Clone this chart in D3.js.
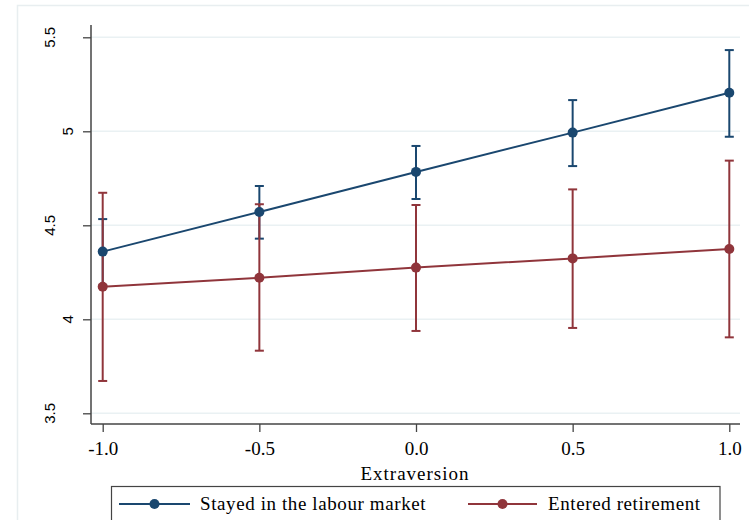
<!DOCTYPE html>
<html>
<head>
<meta charset="utf-8">
<script src="https://cdn.jsdelivr.net/npm/d3@7"></script>
<style>
  html, body { margin: 0; padding: 0; background: #fff; }
  svg { display: block; }
  .serif { font-family: "Liberation Serif", "Times New Roman", serif; fill: #000; }
  .sans { font-family: "Liberation Sans", Arial, sans-serif; fill: #000; }
</style>
</head>
<body>
<svg id="chart" width="749" height="520"></svg>
<script>
// Predicted values with confidence intervals by extraversion level
const extraversion = [-1.0, -0.5, 0.0, 0.5, 1.0];
const stayedMean  = [4.36, 4.571, 4.784, 4.993, 5.205];
const stayedLow   = [4.18, 4.429, 4.640, 4.815, 4.971];
const stayedHigh  = [4.533, 4.709, 4.922, 5.166, 5.432];
const retiredMean = [4.173, 4.221, 4.275, 4.324, 4.374];
const retiredLow  = [3.672, 3.833, 3.938, 3.954, 3.904];
const retiredHigh = [4.673, 4.612, 4.608, 4.691, 4.844];
const seriesNames = ["Stayed in the labour market", "Entered retirement"];
const yTicks = [3.5, 4, 4.5, 5, 5.5];
const xTicks = [-1.0, -0.5, 0.0, 0.5, 1.0];
const xTitle = "Extraversion";

const colors = ["#1a476f", "#90353b"];

const svg = d3.select("#chart");

// outer graph region frame
svg.append("rect")
  .attr("x", 17.5).attr("y", 5.5)
  .attr("width", 800).attr("height", 600)
  .attr("fill", "none").attr("stroke", "#e8eef0").attr("stroke-width", 1.5);

const plot = { left: 91, right: 740, top: 25, bottom: 424 };

const x = d3.scaleLinear().domain([-1, 1]).range([102.7, 729.3]);
const y = d3.scaleLinear().domain([3.5, 5.5]).range([413.3, 37.3]);

// horizontal grid lines
svg.append("g")
  .selectAll("line")
  .data(yTicks)
  .join("line")
  .attr("x1", plot.left).attr("x2", plot.right)
  .attr("y1", d => y(d)).attr("y2", d => y(d))
  .attr("stroke", "#eaf1f3").attr("stroke-width", 1.6);

// y axis
const yAxis = svg.append("g")
  .attr("transform", `translate(${plot.left},0)`)
  .call(d3.axisLeft(y).tickValues(yTicks).tickSize(8).tickFormat(d3.format("")).tickPadding(0));
yAxis.select(".domain").remove();
yAxis.selectAll(".tick line").attr("stroke", "#444").attr("stroke-width", 1.3);
yAxis.selectAll(".tick text").remove();
svg.append("line")
  .attr("x1", plot.left).attr("x2", plot.left)
  .attr("y1", plot.top).attr("y2", plot.bottom)
  .attr("stroke", "#444").attr("stroke-width", 1.5);

// rotated y tick labels; longer labels sit further from the axis
const yLab = svg.append("g").selectAll("text")
  .data(yTicks)
  .join("text")
  .attr("class", "sans")
  .attr("font-size", 15)
  .attr("text-anchor", "middle")
  .text(d => String(d));
yLab.each(function(d) {
  const L = this.getComputedTextLength();
  const bx = 85.5 - 1.48 * L;
  d3.select(this).attr("transform", `translate(${bx},${y(d)}) rotate(-90)`);
});

// x axis (plain hyphen for negative labels)
const fmtX = v => d3.format(".1f")(v).replace("\u2212", "-");
const xAxis = svg.append("g")
  .attr("transform", `translate(0,${plot.bottom})`)
  .call(d3.axisBottom(x).tickValues(xTicks).tickSize(8).tickFormat(fmtX).tickPadding(4));
xAxis.select(".domain").remove();
xAxis.selectAll(".tick line").attr("stroke", "#444").attr("stroke-width", 1.3);
xAxis.selectAll(".tick text")
  .attr("class", "serif")
  .attr("font-size", 19)
  .attr("fill", "#000")
  .attr("dy", null)
  .attr("y", 31);
svg.append("line")
  .attr("x1", plot.left).attr("x2", plot.right)
  .attr("y1", plot.bottom).attr("y2", plot.bottom)
  .attr("stroke", "#444").attr("stroke-width", 1.5);

// axis title
svg.append("text")
  .attr("class", "serif")
  .attr("x", 415).attr("y", 480)
  .attr("text-anchor", "middle")
  .attr("font-size", 19)
  .attr("letter-spacing", 1)
  .text(xTitle);

const series = [
  { name: seriesNames[0], mean: stayedMean, low: stayedLow, high: stayedHigh, color: colors[0] },
  { name: seriesNames[1], mean: retiredMean, low: retiredLow, high: retiredHigh, color: colors[1] }
];
series.forEach(s => {
  s.rows = extraversion.map((e, i) => ({ e, m: s.mean[i], lo: s.low[i], hi: s.high[i] }));
});

const line = d3.line().x(d => x(d[0])).y(d => y(d[1]));

// confidence interval caps for both series first
series.forEach(s => {
  const bars = svg.append("g").selectAll("g").data(s.rows).join("g");
  bars.append("line")
    .attr("x1", r => x(r.e)).attr("x2", r => x(r.e))
    .attr("y1", r => y(r.lo)).attr("y2", r => y(r.hi))
    .attr("stroke", s.color).attr("stroke-width", 2);
  [r => r.lo, r => r.hi].forEach(acc => {
    bars.append("line")
      .attr("x1", r => x(r.e) - 4.5).attr("x2", r => x(r.e) + 4.5)
      .attr("y1", r => y(acc(r))).attr("y2", r => y(acc(r)))
      .attr("stroke", s.color).attr("stroke-width", 2);
  });
});

// connected lines with markers on top
series.forEach(s => {
  const g = svg.append("g");
  g.append("path")
    .datum(s.rows.map(r => [r.e, r.m]))
    .attr("d", line)
    .attr("fill", "none")
    .attr("stroke", s.color)
    .attr("stroke-width", 2);
  g.selectAll("circle").data(s.rows).join("circle")
    .attr("cx", r => x(r.e)).attr("cy", r => y(r.m))
    .attr("r", 5)
    .attr("fill", s.color);
});

// legend
const legend = svg.append("g");
legend.append("rect")
  .attr("x", 111.5).attr("y", 486.5)
  .attr("width", 608.5).attr("height", 60)
  .attr("fill", "#fff").attr("stroke", "#444").attr("stroke-width", 1.2);

const legendItems = [
  { x0: 119, x1: 190, tx: 200 },
  { x0: 468, x1: 537, tx: 548 }
];
series.forEach((s, i) => {
  const it = legendItems[i];
  legend.append("line")
    .attr("x1", it.x0).attr("x2", it.x1)
    .attr("y1", 504).attr("y2", 504)
    .attr("stroke", s.color).attr("stroke-width", 2);
  legend.append("circle")
    .attr("cx", (it.x0 + it.x1) / 2).attr("cy", 504)
    .attr("r", 5).attr("fill", s.color);
  legend.append("text")
    .attr("class", "serif")
    .attr("x", it.tx).attr("y", 510)
    .attr("font-size", 19)
    .attr("letter-spacing", 0.6)
    .text(s.name);
});
</script>
</body>
</html>
